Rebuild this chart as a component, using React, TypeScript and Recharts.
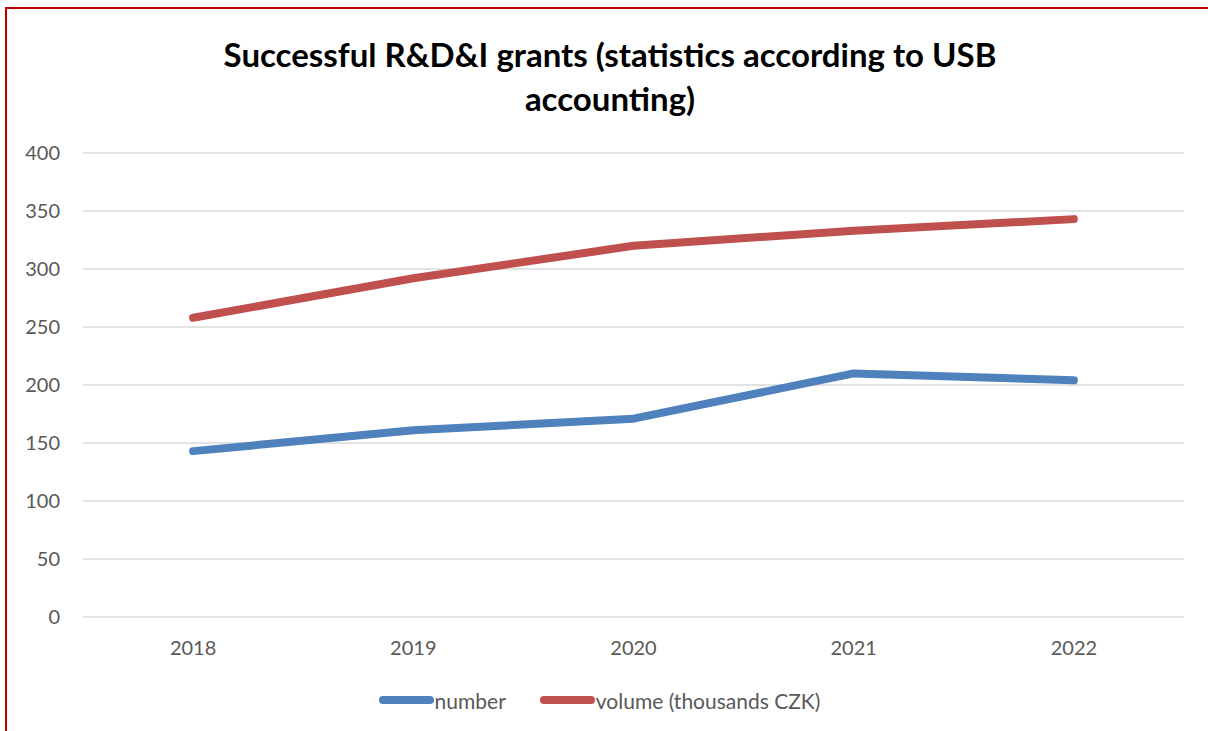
import React from 'react';
import { LineChart, Line, XAxis, YAxis, CartesianGrid, Legend } from 'recharts';

const years = ['2018', '2019', '2020', '2021', '2022'];
const numberValues = [143, 161, 171, 210, 204];
const volumeValues = [258, 292, 320, 333, 343];
const yTicks = [0, 50, 100, 150, 200, 250, 300, 350, 400];

const series = [
  { key: 'number', name: 'number', color: '#4f81bd' },
  { key: 'volume', name: 'volume (thousands CZK)', color: '#c0504d' },
];

const data = years.map((year, i) => ({
  year,
  number: numberValues[i],
  volume: volumeValues[i],
}));

const font = 'Lato, "Open Sans", sans-serif';

const renderLegend = () => (
  <div style={{ display: 'flex', justifyContent: 'center', paddingLeft: 14, height: 30, alignItems: 'center' }}>
    {series.map((s, i) => (
      <div key={s.key} style={{ display: 'flex', alignItems: 'center', marginLeft: i === 0 ? 0 : 33 }}>
        <svg width={57} height={10} style={{ display: 'block' }}>
          <line x1={5} y1={5} x2={52} y2={5} stroke={s.color} strokeWidth={8} strokeLinecap="round" />
        </svg>
        <span style={{ fontFamily: font, fontSize: 21, color: '#595959' }}>{s.name}</span>
      </div>
    ))}
  </div>
);

const App: React.FC = () => {
  return (
    <div>
      <div
        style={{
          position: 'absolute',
          left: 5,
          top: 7,
          width: 1203,
          height: 724,
          boxSizing: 'border-box',
          borderTop: '2px solid #c00000',
          borderLeft: '2px solid #c00000',
        }}
      />
      <div
        style={{
          position: 'absolute',
          left: 0,
          top: 32,
          width: 1208,
          paddingLeft: 12,
          boxSizing: 'border-box',
          textAlign: 'center',
          fontFamily: font,
          fontWeight: 700,
          fontSize: 33,
          lineHeight: '44px',
          color: '#000',
        }}
      >
        Successful R&amp;D&amp;I grants (statistics according to USB
        <br />
        accounting)
      </div>
      <div style={{ position: 'absolute', left: 0, top: 0 }}>
        <LineChart width={1208} height={731} data={data} margin={{ top: 153, right: 24, bottom: 16, left: 0 }}>
          <CartesianGrid vertical={false} stroke="#d9d9d9" strokeWidth={1.5} />
          <XAxis
            dataKey="year"
            scale="band"
            axisLine={false}
            tickLine={false}
            tickSize={0}
            tickMargin={24}
            height={68}
            tick={{ fill: '#595959', fontSize: 20, fontFamily: font }}
          />
          <YAxis
            domain={[0, 400]}
            ticks={yTicks}
            axisLine={false}
            tickLine={false}
            tickSize={0}
            tickMargin={23}
            width={83}
            tick={{ fill: '#595959', fontSize: 20, fontFamily: font }}
          />
          <Legend verticalAlign="bottom" content={renderLegend} />
          {series.map((s) => (
            <Line
              key={s.key}
              type="linear"
              dataKey={s.key}
              name={s.name}
              stroke={s.color}
              strokeWidth={8}
              strokeLinecap="round"
              strokeLinejoin="round"
              dot={false}
              activeDot={false}
              isAnimationActive={false}
            />
          ))}
        </LineChart>
      </div>
    </div>
  );
};

export default App;
